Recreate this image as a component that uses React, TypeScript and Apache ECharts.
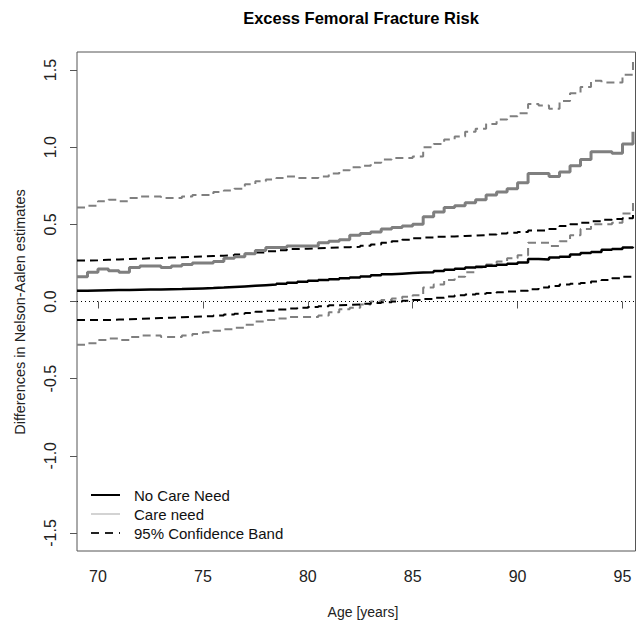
import React, { useEffect, useRef } from "react";
import * as echarts from "echarts";

const ages = [69, 69.5, 70, 70.5, 71, 71.5, 72, 72.5, 73, 73.5, 74, 74.5, 75, 75.5, 76, 76.5, 77, 77.5, 78, 78.5, 79, 79.5, 80, 80.5, 81, 81.5, 82, 82.5, 83, 83.5, 84, 84.5, 85, 85.5, 86, 86.5, 87, 87.5, 88, 88.5, 89, 89.5, 90, 90.5, 91, 91.5, 92, 92.5, 93, 93.5, 94, 94.5, 95, 95.5];

const noCare = [0.07, 0.072, 0.073, 0.074, 0.075, 0.076, 0.077, 0.078, 0.08, 0.081, 0.083, 0.085, 0.087, 0.09, 0.094, 0.098, 0.102, 0.106, 0.11, 0.115, 0.122, 0.128, 0.135, 0.14, 0.145, 0.15, 0.155, 0.162, 0.17, 0.176, 0.18, 0.184, 0.188, 0.19, 0.198, 0.205, 0.212, 0.22, 0.226, 0.232, 0.238, 0.245, 0.252, 0.275, 0.272, 0.285, 0.29, 0.305, 0.315, 0.32, 0.335, 0.34, 0.35, 0.355];

const careNeed = [0.16, 0.19, 0.21, 0.2, 0.19, 0.22, 0.23, 0.23, 0.22, 0.23, 0.24, 0.25, 0.25, 0.26, 0.28, 0.29, 0.31, 0.33, 0.35, 0.35, 0.36, 0.36, 0.36, 0.38, 0.39, 0.4, 0.43, 0.44, 0.45, 0.47, 0.48, 0.49, 0.5, 0.55, 0.58, 0.61, 0.62, 0.64, 0.66, 0.69, 0.71, 0.73, 0.77, 0.83, 0.83, 0.81, 0.84, 0.88, 0.92, 0.97, 0.97, 0.96, 1.02, 1.1];

const careUpper = [0.61, 0.62, 0.65, 0.66, 0.65, 0.67, 0.68, 0.68, 0.67, 0.67, 0.68, 0.69, 0.69, 0.71, 0.72, 0.73, 0.76, 0.78, 0.79, 0.8, 0.81, 0.8, 0.8, 0.81, 0.83, 0.85, 0.87, 0.88, 0.9, 0.92, 0.93, 0.93, 0.94, 1.0, 1.02, 1.05, 1.07, 1.1, 1.12, 1.15, 1.18, 1.2, 1.22, 1.28, 1.27, 1.25, 1.3, 1.35, 1.39, 1.43, 1.42, 1.42, 1.47, 1.57];

const careLower = [-0.28, -0.27, -0.25, -0.24, -0.25, -0.23, -0.22, -0.22, -0.23, -0.23, -0.22, -0.21, -0.2, -0.19, -0.18, -0.17, -0.15, -0.13, -0.12, -0.11, -0.1, -0.1, -0.1, -0.09, -0.07, -0.05, -0.04, -0.02, 0.0, 0.01, 0.02, 0.03, 0.04, 0.09, 0.11, 0.14, 0.16, 0.19, 0.22, 0.24, 0.26, 0.28, 0.3, 0.38, 0.38, 0.36, 0.39, 0.43, 0.47, 0.5, 0.5, 0.51, 0.57, 0.66];

const noCareUpper = [0.265, 0.267, 0.27, 0.272, 0.275, 0.277, 0.28, 0.282, 0.285, 0.287, 0.29, 0.292, 0.295, 0.297, 0.3, 0.305, 0.31, 0.317, 0.325, 0.332, 0.34, 0.342, 0.345, 0.347, 0.35, 0.352, 0.355, 0.362, 0.37, 0.38, 0.39, 0.4, 0.41, 0.415, 0.42, 0.422, 0.425, 0.427, 0.43, 0.435, 0.44, 0.445, 0.45, 0.46, 0.46, 0.47, 0.49, 0.5, 0.51, 0.52, 0.53, 0.535, 0.54, 0.56];

const noCareLower = [-0.12, -0.12, -0.12, -0.117, -0.115, -0.112, -0.11, -0.107, -0.105, -0.102, -0.1, -0.097, -0.095, -0.09, -0.085, -0.08, -0.075, -0.067, -0.06, -0.052, -0.045, -0.04, -0.035, -0.03, -0.025, -0.022, -0.02, -0.015, -0.01, -0.005, 0.0, 0.005, 0.01, 0.017, 0.025, 0.032, 0.04, 0.045, 0.05, 0.055, 0.06, 0.065, 0.07, 0.08, 0.09, 0.1, 0.11, 0.115, 0.12, 0.13, 0.14, 0.15, 0.16, 0.17];

const xTicks = [70, 75, 80, 85, 90, 95];
const yTicks = [-1.5, -1, -0.5, 0, 0.5, 1, 1.5];

const legendLabels = ["No Care Need", "Care need", "95% Confidence Band"];

const FONT = "'Liberation Sans', Arial, Helvetica, sans-serif";

function pairs(ys: number[]) {
  return ages.map((a, i) => [a, ys[i]]);
}

export default function App() {
  const ref = useRef<HTMLDivElement>(null);
  useEffect(() => {
    if (!ref.current) return;
    const chart = echarts.init(ref.current, null, { renderer: "svg" });
    const gray = "#7f7f7f";
    const dashed = [8, 5];
    const mk = (name: string, ys: number[], color: string, width: number, dash: any) => ({
      name,
      type: "line",
      data: pairs(ys),
      step: "end",
      showSymbol: false,
      symbol: "none",
      clip: true,
      lineStyle: { color, width, type: dash },
      z: 3,
    });
    chart.setOption({
      animation: false,
      grid: { left: 77, top: 52, right: 0.5, bottom: 71, show: true, borderColor: "#555", borderWidth: 1, backgroundColor: "transparent" },
      xAxis: {
        type: "value",
        min: 69,
        max: 95.62,
        axisLine: { show: false },
        splitLine: { show: false },
        axisTick: { show: true, inside: false, length: 7, lineStyle: { color: "#555" }, customValues: xTicks },
        axisLabel: { show: true, customValues: xTicks, fontSize: 16, color: "#222", fontFamily: FONT, margin: 17 },
      },
      yAxis: {
        type: "value",
        min: -1.617,
        max: 1.617,
        axisLine: { show: false },
        splitLine: { show: false },
        axisTick: { show: true, inside: false, length: 7, lineStyle: { color: "#555" }, customValues: yTicks },
        axisLabel: {
          show: true,
          customValues: yTicks,
          rotate: 90,
          fontSize: 16,
          color: "#222",
          fontFamily: FONT,
          margin: 19,
          formatter: (v: number) => v.toFixed(1),
        },
      },
      series: [
        mk("careUpper", careUpper, gray, 2, dashed),
        mk("careLower", careLower, gray, 2, dashed),
        mk("noCareUpper", noCareUpper, "#000", 2, dashed),
        mk("noCareLower", noCareLower, "#000", 2, dashed),
        mk("careNeed", careNeed, gray, 3, "solid"),
        {
          ...mk("noCare", noCare, "#000", 2.5, "solid"),
          markLine: {
            silent: true,
            symbol: "none",
            label: { show: false },
            lineStyle: { color: "#000", width: 1, type: [1, 3] },
            data: [{ yAxis: 0 }],
          },
        },
      ],
      graphic: [
        {
          type: "text",
          x: 361,
          y: 18,
          style: { text: "Excess Femoral Fracture Risk", fontSize: 16.5, fontWeight: "bold", fontFamily: FONT, fill: "#000", align: "center", verticalAlign: "middle" },
        },
        {
          type: "text",
          x: 363,
          y: 612,
          style: { text: "Age [years]", fontSize: 14, fontFamily: FONT, fill: "#222", align: "center", verticalAlign: "middle" },
        },
        {
          type: "text",
          x: 20,
          y: 312,
          rotation: Math.PI / 2,
          style: { text: "Differences in Nelson-Aalen estimates", fontSize: 14.5, fontFamily: FONT, fill: "#222", align: "center", verticalAlign: "middle" },
        },
        { type: "line", shape: { x1: 91, y1: 495, x2: 120, y2: 495 }, style: { stroke: "#000", lineWidth: 2 } },
        { type: "line", shape: { x1: 91, y1: 514, x2: 120, y2: 514 }, style: { stroke: "#c4c4c4", lineWidth: 1.5 } },
        { type: "line", shape: { x1: 91, y1: 533, x2: 120, y2: 533 }, style: { stroke: "#222", lineWidth: 2, lineDash: [8, 6] } },
        { type: "text", x: 134, y: 495, style: { text: legendLabels[0], fontSize: 15, fontFamily: FONT, fill: "#111", verticalAlign: "middle" } },
        { type: "text", x: 134, y: 514, style: { text: legendLabels[1], fontSize: 15, fontFamily: FONT, fill: "#111", verticalAlign: "middle" } },
        { type: "text", x: 134, y: 533, style: { text: legendLabels[2], fontSize: 15, fontFamily: FONT, fill: "#111", verticalAlign: "middle" } },
      ],
    });
    return () => chart.dispose();
  }, []);
  return <div ref={ref} style={{ position: "absolute", left: 0, top: 0, width: 636, height: 622 }} />;
}
